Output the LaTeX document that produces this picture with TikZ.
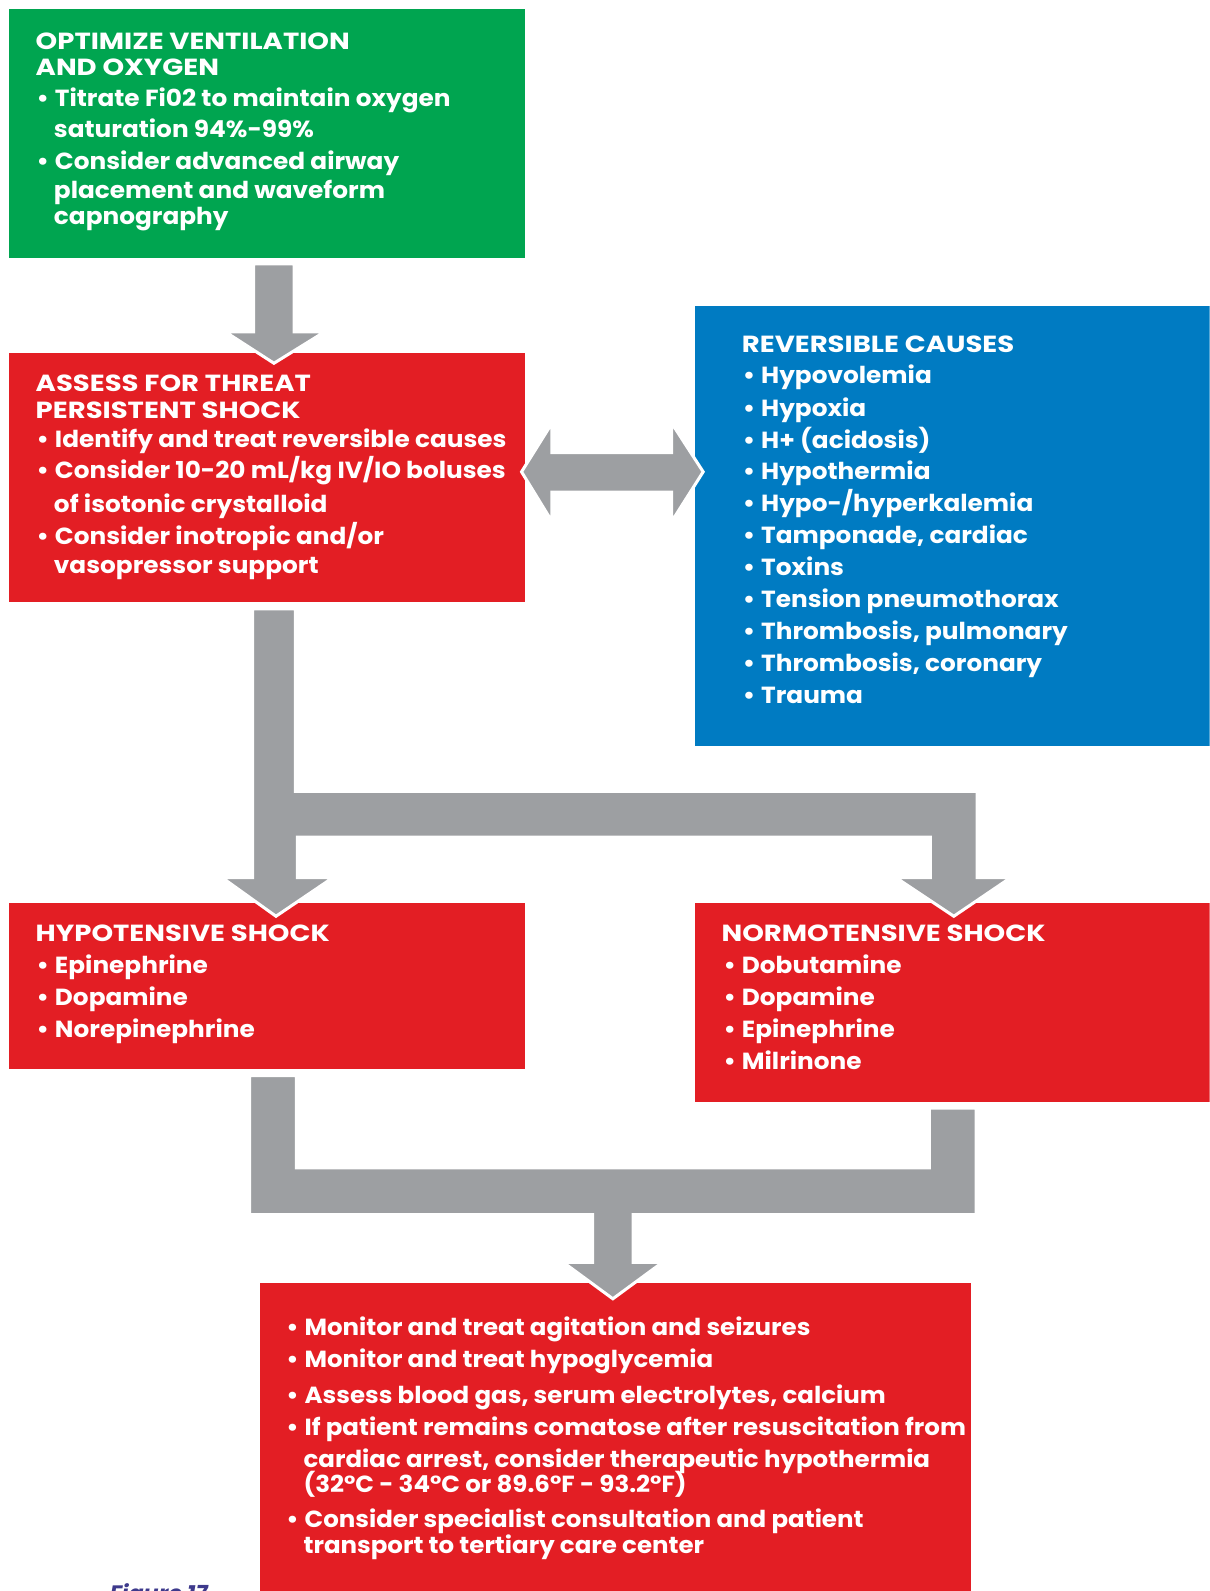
\documentclass[tikz,border=0pt]{standalone}
\usepackage{fontspec}
\setmainfont{Poppins}
\newfontfamily\bodyfont{Poppins}[FakeStretch=1.062]
\newfontfamily\postfont{Poppins}[FakeStretch=1.05]
\newfontfamily\titlefont{Poppins}[FakeStretch=1.18]
\definecolor{ggreen}{HTML}{00A550}
\definecolor{rred}{HTML}{E31E24}
\definecolor{bblue}{HTML}{007BC2}
\definecolor{agray}{HTML}{9D9FA2}
\definecolor{figpurple}{HTML}{3E3A8C}
\tikzset{
  boxbase/.style={inner sep=0pt, outer sep=0pt, anchor=north west},
  greenbox/.style={boxbase, fill=ggreen},
  redbox/.style={boxbase, fill=rred},
  bluebox/.style={boxbase, fill=bblue},
  lbl/.style={text=white, font=\bodyfont\bfseries\fontsize{23}{27}\selectfont, inner sep=0pt, anchor=base west},
  plbl/.style={lbl, font=\postfont\bfseries\fontsize{23}{27}\selectfont},
  ttl/.style={lbl, font=\titlefont\bfseries\fontsize{23}{27}\selectfont},
  blockarrow/.style={fill=agray, draw=white, line width=3pt, line join=miter},
}
\newcommand\putline[5][lbl]{\node[#1] (#2) at (#3,#4) {#5};}
\newcommand\putbul[5][lbl]{\node[#1] (#2) at (#3,#4) {\makebox[18pt][l]{•}#5};}
\begin{document}
\begin{tikzpicture}[x=1pt,y=-1pt]
\useasboundingbox (0,0) rectangle (1192,1568);
\clip (0,0) rectangle (1192,1568);
% boxes
\node[greenbox, minimum width=508pt, minimum height=245pt] (opt) at (9,9) {};
\node[redbox, minimum width=508pt, minimum height=245pt] (assess) at (9,348) {};
\node[bluebox, minimum width=507pt, minimum height=433pt] (rev) at (685,302) {};
\node[redbox, minimum width=508pt, minimum height=164pt] (hypo) at (9,890) {};
\node[redbox, minimum width=507pt, minimum height=196pt] (normo) at (685,890) {};
\node[redbox, minimum width=701pt, minimum height=310pt] (post) at (256,1264) {};
% green text
\putline[ttl]{g0}{35}{49}{OPTIMIZE VENTILATION}
\putline[ttl]{g1}{35}{74.6}{AND OXYGEN}
\putbul{g2}{36}{104.5}{Titrate Fi02 to maintain oxygen}
\putline{g3}{53}{136}{saturation 94\%-99\%}
\putbul{g4}{36}{167}{Consider advanced airway}
\putline{g5}{53}{196}{placement and waveform}
\putline{g6}{53}{221}{capnography}
% assess text
\putline[ttl]{a0}{35}{386}{ASSESS FOR THREAT}
\putline[ttl]{a1}{35}{412}{PERSISTENT SHOCK}
\putbul{a2}{36}{441}{Identify and treat reversible causes}
\putbul{a3}{36}{472}{Consider 10-20 mL/kg IV/IO boluses}
\putline{a4}{53}{505}{of isotonic crystalloid}
\putbul{a5}{36}{537}{Consider inotropic and/or}
\putline{a6}{53}{565}{vasopressor support}
% reversible causes
\putline[ttl]{r0}{731}{347}{REVERSIBLE CAUSES}
\putbul{r1}{732}{378}{Hypovolemia}
\putbul{r2}{732}{410}{Hypoxia}
\putbul{r3}{732}{441.7}{H+ (acidosis)}
\putbul{r4}{732}{473}{Hypothermia}
\putbul{r5}{732}{504.5}{Hypo-/hyperkalemia}
\putbul{r6}{732}{535.6}{Tamponade, cardiac}
\putbul{r7}{732}{567.5}{Toxins}
\putbul{r8}{732}{598.6}{Tension pneumothorax}
\putbul{r9}{732}{630}{Thrombosis, pulmonary}
\putbul{r10}{732}{662}{Thrombosis, coronary}
\putbul{r11}{732}{693}{Trauma}
% hypotensive
\putline[ttl]{h0}{35}{928}{HYPOTENSIVE SHOCK}
\putbul{h1}{36}{959}{Epinephrine}
\putbul{h2}{36}{991}{Dopamine}
\putbul{h3}{36}{1022}{Norepinephrine}
% normotensive
\putline[ttl]{n0}{711}{928}{NORMOTENSIVE SHOCK}
\putbul{n1}{713}{959}{Dobutamine}
\putbul{n2}{713}{991}{Dopamine}
\putbul{n3}{713}{1022}{Epinephrine}
\putbul{n4}{713}{1054}{Milrinone}
% post
\putbul[plbl]{m0}{282}{1316}{Monitor and treat agitation and seizures}
\putbul[plbl]{m1}{282}{1347.4}{Monitor and treat hypoglycemia}
\putbul[plbl]{m2}{282}{1383}{Assess blood gas, serum electrolytes, calcium}
\putbul[plbl]{m3}{282}{1414.8}{If patient remains comatose after resuscitation from}
\putline[plbl]{m4}{299}{1446}{cardiac arrest, consider therapeutic hypothermia}
\putline[plbl]{m5}{299}{1470.6}{(32°C - 34°C or 89.6°F - 93.2°F)}
\putbul[plbl]{m6}{282}{1505}{Consider specialist consultation and patient}
\putline[plbl]{m7}{299}{1531}{transport to tertiary care center}
% figure caption (cut off by the page edge, as in the source)
\node[font=\bfseries\itshape\fontsize{22}{26}\selectfont, text=figpurple, anchor=north west, inner sep=0pt] (fig) at (108,1560.5) {Figure 17};
% arrows
\draw[blockarrow] (250,260) -- (290,260) -- (290,327) -- (320,327) -- (270,358) -- (222,327) -- (250,327) -- cycle;
\draw[blockarrow] (514,465) -- (544,417) -- (544,446) -- (662,446) -- (662,417) -- (693,465) -- (662,514) -- (662,485) -- (544,485) -- (544,514) -- cycle;
\draw[blockarrow] (249,600) -- (291,600) -- (291,780) -- (963,780) -- (963,865) -- (996,865) -- (940,903) -- (883,865) -- (917,865) -- (917,825) -- (293,825) -- (293,865) -- (328,865) -- (272,903) -- (219,865) -- (249,865) -- cycle;
\draw[blockarrow] (246,1060) -- (292,1060) -- (292,1151) -- (916,1151) -- (916,1092) -- (962,1092) -- (962,1197) -- (624,1197) -- (624,1244) -- (653,1244) -- (604,1280) -- (555,1244) -- (584,1244) -- (584,1197) -- (246,1197) -- cycle;
\end{tikzpicture}
\end{document}
